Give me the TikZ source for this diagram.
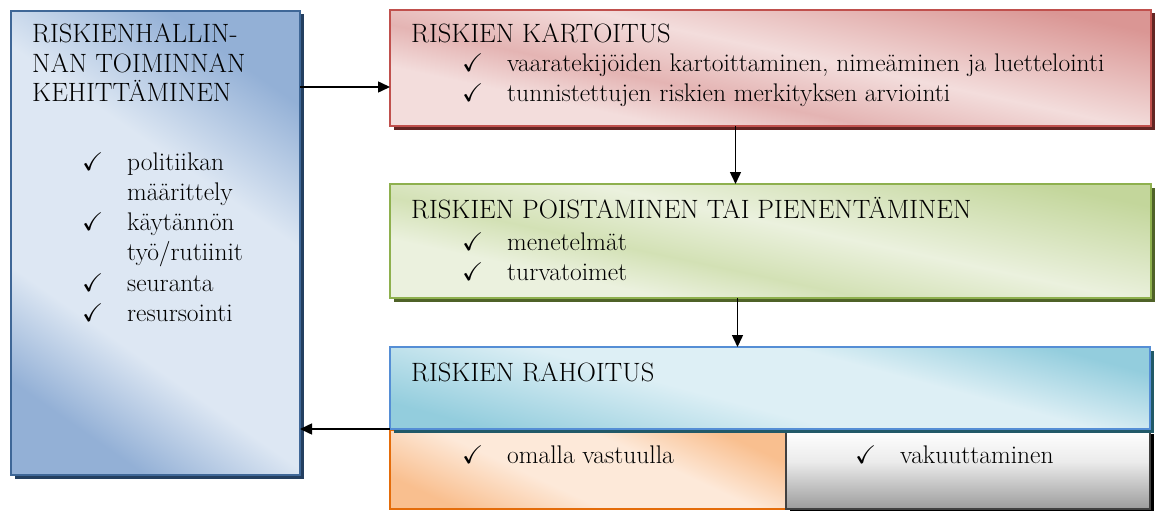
\documentclass[tikz,border=0pt]{standalone}
\usepackage{amssymb}
\usetikzlibrary{arrows.meta,shadows}
\definecolor{bdL}{HTML}{3F6797}\definecolor{shL}{HTML}{243F60}
\definecolor{dkL}{HTML}{93B0D6}\definecolor{ltL}{HTML}{DDE7F3}\definecolor{mdL}{HTML}{A9C1E0}
\definecolor{bdR}{HTML}{C0504D}\definecolor{shR}{HTML}{632523}
\definecolor{dkR}{HTML}{DA9694}\definecolor{ltR}{HTML}{F3DDDC}\definecolor{mdR}{HTML}{E4B4B3}
\definecolor{bdG}{HTML}{8EB04E}\definecolor{shG}{HTML}{4F6228}
\definecolor{dkG}{HTML}{C3D69B}\definecolor{ltG}{HTML}{EBF1DE}\definecolor{mdG}{HTML}{D3E1B5}
\definecolor{bdB}{HTML}{558ED5}\definecolor{shB}{HTML}{215968}
\definecolor{dkB}{HTML}{93CDDD}\definecolor{ltB}{HTML}{DDEFF5}
\definecolor{bdO}{HTML}{E46C0A}\definecolor{dkO}{HTML}{F9BF8F}\definecolor{ltO}{HTML}{FDE9D9}
\definecolor{bdY}{HTML}{404040}\definecolor{dkY}{HTML}{9C9C9C}
\pgfdeclareverticalshading{gradL}{100bp}{color(0bp)=(dkL); color(25bp)=(dkL); color(37bp)=(ltL); color(60bp)=(ltL); color(75bp)=(dkL); color(100bp)=(dkL)}
\pgfdeclareverticalshading{gradR}{100bp}{color(0bp)=(ltR); color(25bp)=(ltR); color(33bp)=(ltR); color(42bp)=(mdR); color(54bp)=(ltR); color(75bp)=(dkR); color(100bp)=(dkR)}
\pgfdeclareverticalshading{gradG}{100bp}{color(0bp)=(ltG); color(25bp)=(ltG); color(33bp)=(ltG); color(42bp)=(mdG); color(54bp)=(ltG); color(75bp)=(dkG); color(100bp)=(dkG)}
\pgfdeclareverticalshading{gradB}{100bp}{color(0bp)=(dkB); color(25bp)=(dkB); color(45bp)=(ltB); color(60bp)=(ltB); color(75bp)=(dkB); color(100bp)=(dkB)}
\pgfdeclareverticalshading{gradO}{100bp}{color(0bp)=(dkO); color(25bp)=(dkO); color(42bp)=(ltO); color(60bp)=(ltO); color(75bp)=(dkO); color(100bp)=(dkO)}
\pgfdeclareverticalshading{gradY}{100bp}{color(0bp)=(dkY); color(25bp)=(dkY); color(55bp)=(white!80!dkY); color(75bp)=(white); color(100bp)=(white)}
\newcommand\fs{\fontsize{25.5}{30}\selectfont}
\newcommand\fh{\fontsize{26.5}{30}\selectfont}
\newcommand\ck{\makebox[45pt][l]{\checkmark}}
\begin{document}
\begin{tikzpicture}[x=1pt,y=-1pt,
  box/.style={draw, line width=1.5pt, inner sep=0pt, outer sep=0pt, anchor=north west},
  txt/.style={anchor=base west, inner sep=0pt, font=\fs, text=black},
  ttl/.style={txt, font=\fh},
  arr/.style={line width=1.5pt, -{Triangle[length=12pt,width=11pt]}},
  shd/.style={drop shadow={shadow xshift=3.5pt, shadow yshift=-3.5pt, fill=#1, opacity=1}},
]
\useasboundingbox (0,0) rectangle (1157,511);
% left box
\node[box, draw=bdL, shd=shL, minimum width=289pt, minimum height=464pt,
  shading=gradL, shading angle=-35] (L) at (11,11) {};
% red box
\node[box, draw=bdR, shd=shR, minimum width=761pt, minimum height=116pt,
  shading=gradR, shading angle=-12] (R) at (390,10) {};
% green box
\node[box, draw=bdG, shd=shG, minimum width=761pt, minimum height=114pt,
  shading=gradG, shading angle=-12] (G) at (390,184) {};
% orange and gray boxes
\node[box, draw=bdO, minimum width=396pt, minimum height=79pt,
  shading=gradO, shading angle=-25] (O) at (390,430) {};
\node[box, draw=bdY, shd=black, minimum width=364pt, minimum height=79pt,
  shading=gradY] (Y) at (786,430) {};
% blue box
\node[box, draw=bdB, shd=shB, minimum width=760pt, minimum height=82pt,
  shading=gradB, shading angle=-15] (B) at (390,347) {};
% texts
\node[ttl] (l1) at (32,43) {RISKIENHALLIN-};
\node[ttl] (l2) at (32,73) {NAN TOIMINNAN};
\node[ttl] (l3) at (32,102) {KEHITTÄMINEN};
\node[txt] (l4) at (82,170) {\ck politiikan};
\node[txt] (l5) at (127,200) {määrittely};
\node[txt] (l6) at (82,230) {\ck käytännön};
\node[txt] (l7) at (127,260) {työ/rutiinit};
\node[txt] (l8) at (82,291) {\ck seuranta};
\node[txt] (l9) at (82,321) {\ck resursointi};
\node[ttl] (r1) at (411,43) {RISKIEN KARTOITUS};
\node[txt] (r2) at (462,72) {\ck vaaratekijöiden kartoittaminen, nimeäminen ja luettelointi};
\node[txt] (r3) at (462,102) {\ck tunnistettujen riskien merkityksen arviointi};
\node[ttl] (g1) at (411,218) {RISKIEN POISTAMINEN TAI PIENENTÄMINEN};
\node[txt] (g2) at (462,250) {\ck menetelmät};
\node[txt] (g3) at (462,280) {\ck turvatoimet};
\node[ttl] (b1) at (411,381) {RISKIEN RAHOITUS};
\node[txt] (o1) at (462,463) {\ck omalla vastuulla};
\node[txt] (y1) at (855,463) {\ck vakuuttaminen};
% connectors
\coordinate (a1) at ([yshift=-19pt]R.west);
\draw[arr] (L.east |- a1) -- (a1);
\coordinate (a2) at ([xshift=-35pt]R.south);
\draw[arr] (a2) -- (a2 |- G.north);
\coordinate (a3) at ([xshift=-33pt]G.south);
\draw[arr] (a3) -- (a3 |- B.north);
\draw[arr] (B.south west) -- (B.south west -| L.east);
\end{tikzpicture}
\end{document}
